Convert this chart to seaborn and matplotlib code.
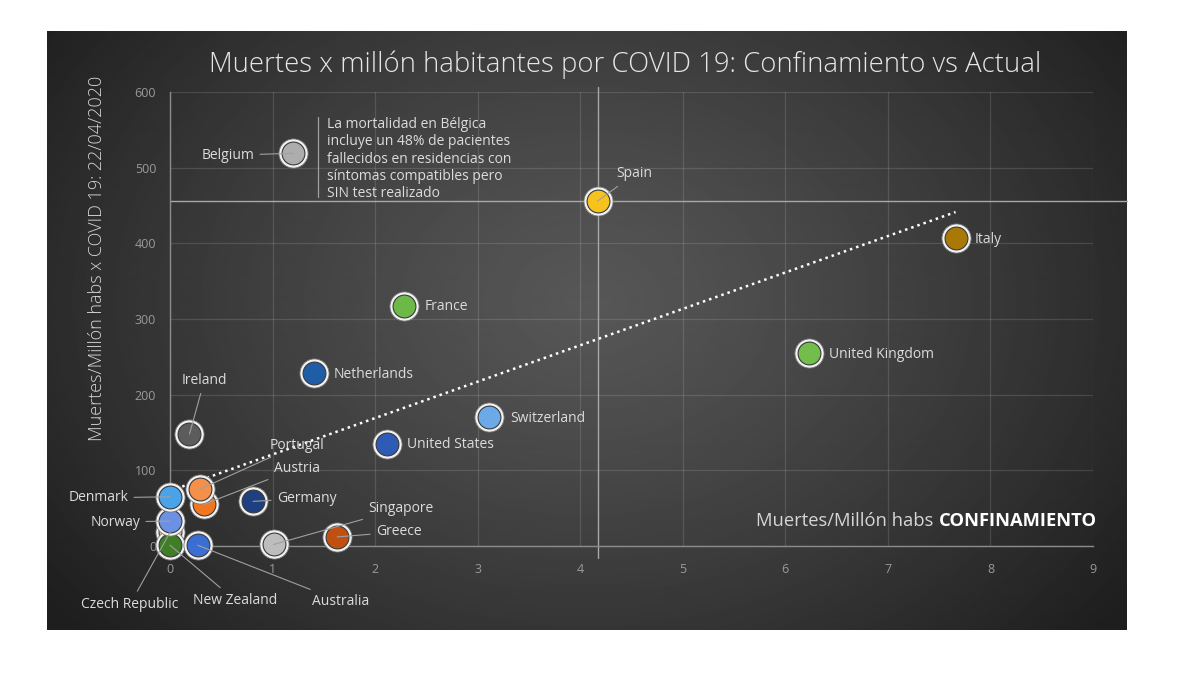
import numpy as np
import pandas as pd
import matplotlib
matplotlib.use("Agg")
import matplotlib.pyplot as plt
from matplotlib.lines import Line2D
import seaborn as sns

# ---------------- data ----------------
countries = ["Belgium", "Spain", "Italy", "France", "United Kingdom", "Netherlands",
             "Switzerland", "United States", "Ireland", "Czech Republic", "New Zealand",
             "Norway", "Denmark", "Austria", "Portugal", "Germany", "Australia",
             "Singapore", "Greece"]
confinamiento = [1.20, 4.17, 7.66, 2.28, 6.23, 1.40, 3.11, 2.12, 0.19, 0.00, 0.00,
                 0.00, 0.00, 0.33, 0.29, 0.81, 0.27, 1.01, 1.63]
actual = [519, 456, 407, 317, 255, 229, 170, 135, 148, 18, 1,
          33, 65, 55, 75, 59, 1, 2, 12]
point_colors = ["#ADADAD", "#F5C21E", "#A87A05", "#6CB947", "#72BD4B", "#1F5DA6",
                "#6BAAE6", "#2D5BB5", "#5C5C5C", "#F0D26A", "#3F7D26",
                "#6B90E4", "#4AA2E8", "#F27620", "#F5904A", "#1E3F80", "#3A6ED4",
                "#BDBDBD", "#C0500F"]
x_ticks = list(range(0, 10))
y_ticks = list(range(0, 601, 100))

title = "Muertes x millón habitantes por COVID 19: Confinamiento vs Actual"
y_label = "Muertes/Millón habs x COVID 19: 22/04/2020"
x_label_regular = "Muertes/Millón habs "
x_label_bold = "CONFINAMIENTO"
note = ("La mortalidad en Bélgica\nincluye un 48% de pacientes\nfallecidos en residencias con\n"
        "síntomas compatibles pero\nSIN test realizado")

df = pd.DataFrame({"country": countries, "confinamiento": confinamiento,
                   "actual": actual, "color": point_colors})

# ---------------- style: label offsets (pixels) ----------------
label_style = {
    "Belgium": (-39, -2, "right", True),
    "Spain": (19, 27, "left", True),
    "Italy": (19, -1, "left", False),
    "France": (21, 0, "left", False),
    "United Kingdom": (20, -1, "left", False),
    "Netherlands": (20, -2, "left", False),
    "Switzerland": (21, -1, "left", False),
    "United States": (20, -1, "left", False),
    "Ireland": (15, 54, "center", True),
    "Portugal": (70, 44, "left", True),
    "Austria": (70, 36, "left", True),
    "Germany": (24, 3, "left", True),
    "Singapore": (95, 36, "left", True),
    "Greece": (39, 5, "left", True),
    "Denmark": (-42, -1, "right", True),
    "Norway": (-30, -1, "right", True),
    "Czech Republic": (-40, -72, "center", True),
    "New Zealand": (23, -55, "left", True),
    "Australia": (114, -56, "left", True),
}

sns.set_theme(style="dark")
plt.rcParams["font.family"] = ["Open Sans", "DejaVu Sans"]

W, H = 1200, 675
fig = plt.figure(figsize=(12, 6.75), dpi=100)
fig.patch.set_facecolor("white")

# dark gradient panel
bg = fig.add_axes([47 / W, 1 - 630 / H, 1080 / W, 599 / H])
yy, xx = np.mgrid[0:1:300j, 0:1:540j]
r = np.sqrt(((xx - 0.50) / 0.62) ** 2 + ((yy - 0.45) / 0.85) ** 2)
v = 0.34 - 0.22 * np.clip(r, 0, 1) ** 1.2
bg.imshow(v, cmap="gray", vmin=0, vmax=1, aspect="auto", extent=[0, 1, 0, 1],
          origin="upper", interpolation="bilinear")
bg.set_axis_off()

# main axes
ax = fig.add_axes([170 / W, 1 - 546 / H, 923 / W, 454 / H])
ax.patch.set_alpha(0)
ax.set_xlim(0, 9)
ax.set_ylim(0, 600)
ax.set_xticks(x_ticks)
ax.set_yticks(y_ticks)
ax.grid(True, color="white", alpha=0.13, lw=0.9)
ax.tick_params(axis="both", colors="#9a9a9a", labelsize=9, length=0)
ax.tick_params(axis="y", pad=10)
ax.tick_params(axis="x", pad=12)
for s in ["top", "right"]:
    ax.spines[s].set_visible(False)
for s in ["left", "bottom"]:
    ax.spines[s].set_color("#8c8c8c")
    ax.spines[s].set_linewidth(1.0)

# Spain crosshair
spain = df[df.country == "Spain"].iloc[0]
ax.axvline(spain.confinamiento, ymin=-0.026, ymax=1.01, color="#a8a8a8", lw=1.0,
           clip_on=False, zorder=1)
ax.axhline(spain.actual, xmin=0, xmax=1.037, color="#a8a8a8", lw=1.0,
           clip_on=False, zorder=1)

# trend line
sns.regplot(data=df, x="confinamiento", y="actual", scatter=False, ci=None, ax=ax,
            line_kws=dict(color="white", ls=(0, (1, 1.6)), lw=1.8, zorder=2))

# markers (each ring + fill in order so overlaps stack properly)
for i, row in df.iterrows():
    sub = df.iloc[[i]]
    sns.scatterplot(data=sub, x="confinamiento", y="actual", s=440, color="#f2f2f2",
                    edgecolor="#777777", linewidth=0.6, ax=ax, legend=False,
                    zorder=3 + 2 * i, clip_on=False)
    sns.scatterplot(data=sub, x="confinamiento", y="actual", s=270, color=row.color,
                    edgecolor="#3a3a3a", linewidth=0.8, ax=ax, legend=False,
                    zorder=4 + 2 * i, clip_on=False)

ax.set_xlabel("")
ax.set_ylabel("")

# labels
for _, row in df.iterrows():
    dx, dy, ha, leader = label_style[row.country]
    arrow = dict(arrowstyle="-", color="#a0a0a0", lw=0.8, shrinkA=2, shrinkB=0) if leader else None
    ax.annotate(row.country, xy=(row.confinamiento, row.actual), xytext=(dx, dy),
                textcoords="offset pixels", ha=ha, va="center", fontsize=10,
                color="#dcdcdc", arrowprops=arrow, zorder=60, annotation_clip=False)

# Belgium note
bel = df[df.country == "Belgium"].iloc[0]
ax.annotate(note, xy=(bel.confinamiento, bel.actual), xytext=(34, 36),
            textcoords="offset pixels", ha="left", va="top", fontsize=10,
            color="#dcdcdc", linespacing=1.2, zorder=60)
fig.add_artist(Line2D([318 / W, 318 / W], [1 - 117 / H, 1 - 197 / H],
                      color="#a0a0a0", lw=0.9))

# x label inside plot
tb = ax.text(1.004, 0.044, x_label_bold, transform=ax.transAxes, ha="right",
             va="baseline", fontsize=13.2, fontweight="bold", color="white", zorder=60)
ax.annotate(x_label_regular, xy=(0, 0), xycoords=tb, ha="right", va="bottom",
            fontsize=13.2, color="#d6d6d6", zorder=60)

# title and y label
fig.text(625 / W, 1 - 65 / H, title, ha="center", va="center", fontsize=19.8,
         color="#e6e6e6", fontweight="light")
fig.text(97 / W, 1 - 258 / H, y_label, ha="center", va="center", rotation=90,
         fontsize=13, color="#d6d6d6", fontweight="light")

fig.savefig("out.png", dpi=100, facecolor=fig.get_facecolor())
